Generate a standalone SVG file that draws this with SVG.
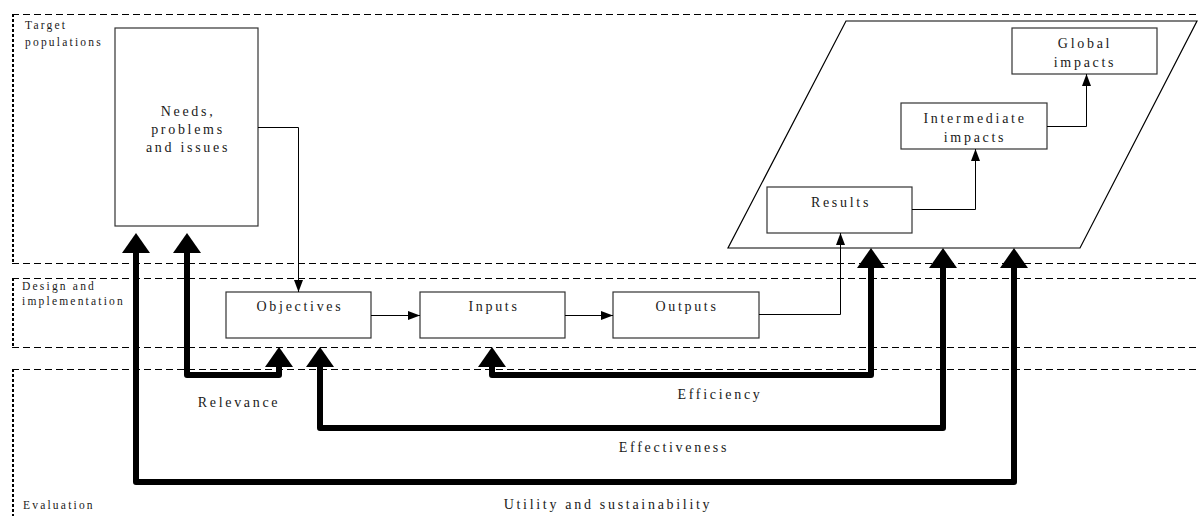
<svg xmlns="http://www.w3.org/2000/svg" width="1198" height="516" viewBox="0 0 1198 516">
<style>
  .zone-h { stroke:#000; stroke-width:1; stroke-dasharray:7 4; fill:none; }
  .zone-v { stroke:#000; stroke-width:2; stroke-dasharray:3 2; fill:none; }
  .box { fill:#fff; stroke:#333; stroke-width:1.2; }
  .lbl { font-family:"Liberation Serif","Times New Roman",serif; font-size:14px; letter-spacing:2.7px; fill:#1a1a1a; text-anchor:middle; }
  .zlbl { font-family:"Liberation Serif","Times New Roman",serif; font-size:11.5px; letter-spacing:2.2px; fill:#1a1a1a; }
  .thin { stroke:#000; stroke-width:1; fill:none; marker-end:url(#ah); }
  .thick { stroke:#000; stroke-width:6; fill:none; stroke-linejoin:round; marker-start:url(#big); marker-end:url(#big); }
</style>
<defs>
  <marker id="ah" markerUnits="userSpaceOnUse" markerWidth="12" markerHeight="10" refX="12" refY="5" orient="auto" overflow="visible">
    <path d="M0,0.5 L12,5 L0,9.5 z" fill="#000"/>
  </marker>
  <marker id="big" markerUnits="userSpaceOnUse" markerWidth="20" markerHeight="28" refX="0" refY="14" orient="auto-start-reverse" overflow="visible">
    <path d="M0,0 L20,14 L0,28 z" fill="#000"/>
  </marker>
</defs>

<g id="zones">
  <path class="zone-h" d="M12,14.5 H1198 M12,263.5 H1198"/>
  <path class="zone-v" d="M13,14 V263"/>
  <path class="zone-h" d="M12,278.5 H1198 M12,347.5 H1198"/>
  <path class="zone-v" d="M13,278 V347"/>
  <path class="zone-h" d="M12,369.5 H1198"/>
  <path class="zone-v" d="M13,369 V516"/>
  <text class="zlbl" x="25" y="29">Target</text>
  <text class="zlbl" x="25" y="46">populations</text>
  <text class="zlbl" x="22" y="290">Design and</text>
  <text class="zlbl" x="22" y="305">implementation</text>
  <text class="zlbl" x="23" y="509">Evaluation</text>
</g>

<g id="impact-area">
  <polygon points="846,21 1197,21 1080,248 728,248" fill="#fff" stroke="#000" stroke-width="1.2"/>
</g>

<g id="needs">
  <rect class="box" x="115" y="28" width="143" height="198"/>
  <text class="lbl" x="188" y="116">Needs,</text>
  <text class="lbl" x="188" y="134">problems</text>
  <text class="lbl" x="188" y="152">and issues</text>
</g>
<g id="objectives">
  <rect class="box" x="226" y="292" width="145" height="46"/>
  <text class="lbl" x="300" y="311">Objectives</text>
</g>
<g id="inputs">
  <rect class="box" x="420" y="292" width="145" height="46"/>
  <text class="lbl" x="494" y="311">Inputs</text>
</g>
<g id="outputs">
  <rect class="box" x="613" y="292" width="146" height="46"/>
  <text class="lbl" x="687" y="311">Outputs</text>
</g>
<g id="results">
  <rect class="box" x="767" y="187" width="145" height="46"/>
  <text class="lbl" x="841" y="207">Results</text>
</g>
<g id="intermediate">
  <rect class="box" x="901" y="103" width="146" height="46"/>
  <text class="lbl" x="975" y="123">Intermediate</text>
  <text class="lbl" x="975" y="142">impacts</text>
</g>
<g id="global">
  <rect class="box" x="1012" y="28" width="145" height="46"/>
  <text class="lbl" x="1085" y="48">Global</text>
  <text class="lbl" x="1085" y="67">impacts</text>
</g>

<g id="connectors">
  <path class="thin" d="M258,127.5 H298.5 V292"/>
  <path class="thin" d="M371,315.5 H420"/>
  <path class="thin" d="M565,315.5 H613"/>
  <path class="thin" d="M759,314.5 H840.5 V233"/>
  <path class="thin" d="M912,209.5 H975.5 V149"/>
  <path class="thin" d="M1047,126.5 H1086.5 V74"/>

  <path class="thick" d="M136,253 V482 H1014 V268"/>
  <path class="thick" d="M320,367 V428 H943 V268"/>
  <path class="thick" d="M187,253 V375 H279 V367"/>
  <path class="thick" d="M492,367 V375 H871 V268"/>

  <text class="lbl" x="239" y="407">Relevance</text>
  <text class="lbl" x="720" y="399">Efficiency</text>
  <text class="lbl" x="674" y="452">Effectiveness</text>
  <text class="lbl" x="608" y="509">Utility and sustainability</text>
</g>
</svg>
